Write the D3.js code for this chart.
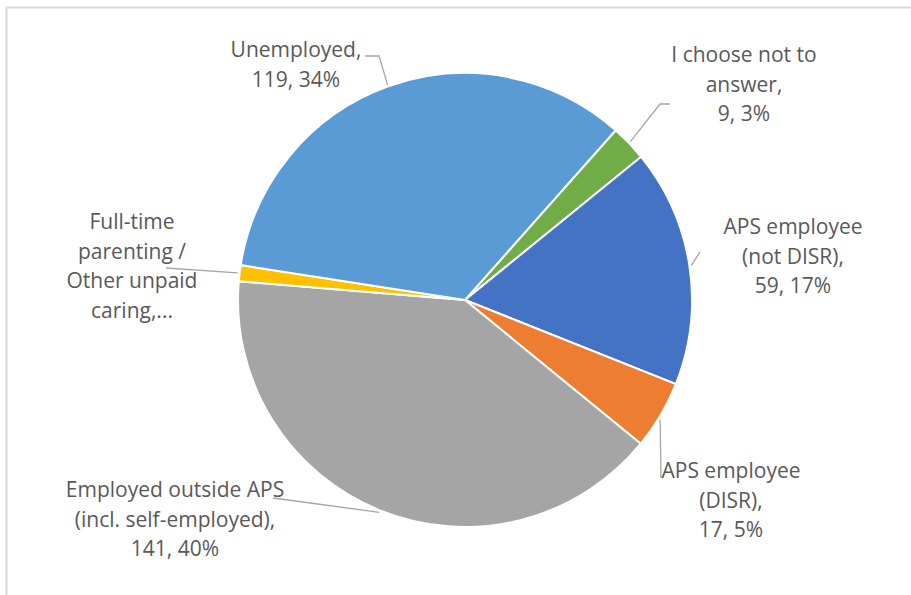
<!DOCTYPE html>
<html>
<head>
<meta charset="utf-8">
<script src="https://cdn.jsdelivr.net/npm/d3@7"></script>
<style>
  body { margin: 0; background: #fff; }
  svg { display: block; }
</style>
</head>
<body>
<div id="chart"></div>
<script>
// data, clockwise from the first slice
var categories = ["I choose not to answer", "APS employee (not DISR)", "APS employee (DISR)",
                  "Employed outside APS (incl. self-employed)", "Full-time parenting / Other unpaid caring", "Unemployed"];
var values = [9, 59, 17, 141, 4, 119];
var percents = ["3%", "17%", "5%", "40%", "1%", "34%"];
var labelLines = [
  ["I choose not to", "answer,", "9, 3%"],
  ["APS employee", "(not DISR),", "59, 17%"],
  ["APS employee", "(DISR),", "17, 5%"],
  ["Employed outside APS", "(incl. self-employed),", "141, 40%"],
  ["Full-time", "parenting /", "Other unpaid", "caring,..."],
  ["Unemployed,", "119, 34%"]
];
var colors = ["#70AD47", "#4472C4", "#ED7D31", "#A5A5A5", "#FFC000", "#5B9BD5"];

var width = 911, height = 595;
var cx = 465, cy = 300, radius = 227;
var firstSliceAngle = 41.6; // degrees

// label layout: centre x, first baseline y, leader start and elbow
var labelLayout = [
  {x: 744, y: 62, start: [670, 104], elbow: [660, 104]},
  {x: 793, y: 234, start: [700, 252], elbow: [700, 252]},
  {x: 731, y: 478, start: [661, 478], elbow: [661, 478]},
  {x: 175, y: 497, start: [273, 498], elbow: [273, 498]},
  {x: 132, y: 229, start: [166, 268], elbow: [166, 268]},
  {x: 296, y: 57, start: [365, 56], elbow: [379, 56]}
];
var leaderTargets = [0.5, 0.5, 0.56, 0.5, 0.5, 0.5]; // fraction along each slice
var lineHeight = 29.5;

var svg = d3.select("#chart").append("svg")
    .attr("width", width)
    .attr("height", height);

// chart border
svg.append("rect")
    .attr("x", 6.5).attr("y", 7.5)
    .attr("width", 1000).attr("height", 1000)
    .attr("fill", "none")
    .attr("stroke", "#d9d9d9")
    .attr("stroke-width", 2);

var pie = d3.pie()
    .sort(null)
    .startAngle(firstSliceAngle * Math.PI / 180)
    .endAngle(firstSliceAngle * Math.PI / 180 + 2 * Math.PI)
    .value(function(d) { return d; });

var arcs = pie(values);

var arc = d3.arc().innerRadius(0).outerRadius(radius);

var g = svg.append("g")
    .attr("transform", "translate(" + cx + "," + cy + ")");

g.selectAll("path.slice")
    .data(arcs)
    .enter().append("path")
      .attr("class", "slice")
      .attr("d", arc)
      .attr("fill", function(d, i) { return colors[i]; })
      .attr("stroke", "#fff")
      .attr("stroke-width", 2);

// leader lines: label -> elbow -> just outside the slice edge
svg.append("g").selectAll("polyline")
    .data(arcs)
    .enter().append("polyline")
      .attr("fill", "none")
      .attr("stroke", "#a6a6a6")
      .attr("stroke-width", 1.3)
      .attr("points", function(d, i) {
        var a = d.startAngle + (d.endAngle - d.startAngle) * leaderTargets[i];
        var r = radius + 2;
        var px = cx + r * Math.sin(a), py = cy - r * Math.cos(a);
        var L = labelLayout[i];
        return [L.start, L.elbow, [px, py]].map(function(p) { return p.join(","); }).join(" ");
      });

// labels
var labels = svg.append("g")
    .style("font-family", "'Open Sans', sans-serif")
    .style("font-size", "21px")
    .attr("fill", "#595959")
    .attr("text-anchor", "middle");

labelLines.forEach(function(lines, i) {
  var L = labelLayout[i];
  var t = labels.append("text").attr("x", L.x).attr("y", L.y);
  lines.forEach(function(line, j) {
    t.append("tspan")
      .attr("x", L.x)
      .attr("y", L.y + j * lineHeight)
      .text(line);
  });
});
</script>
</body>
</html>
